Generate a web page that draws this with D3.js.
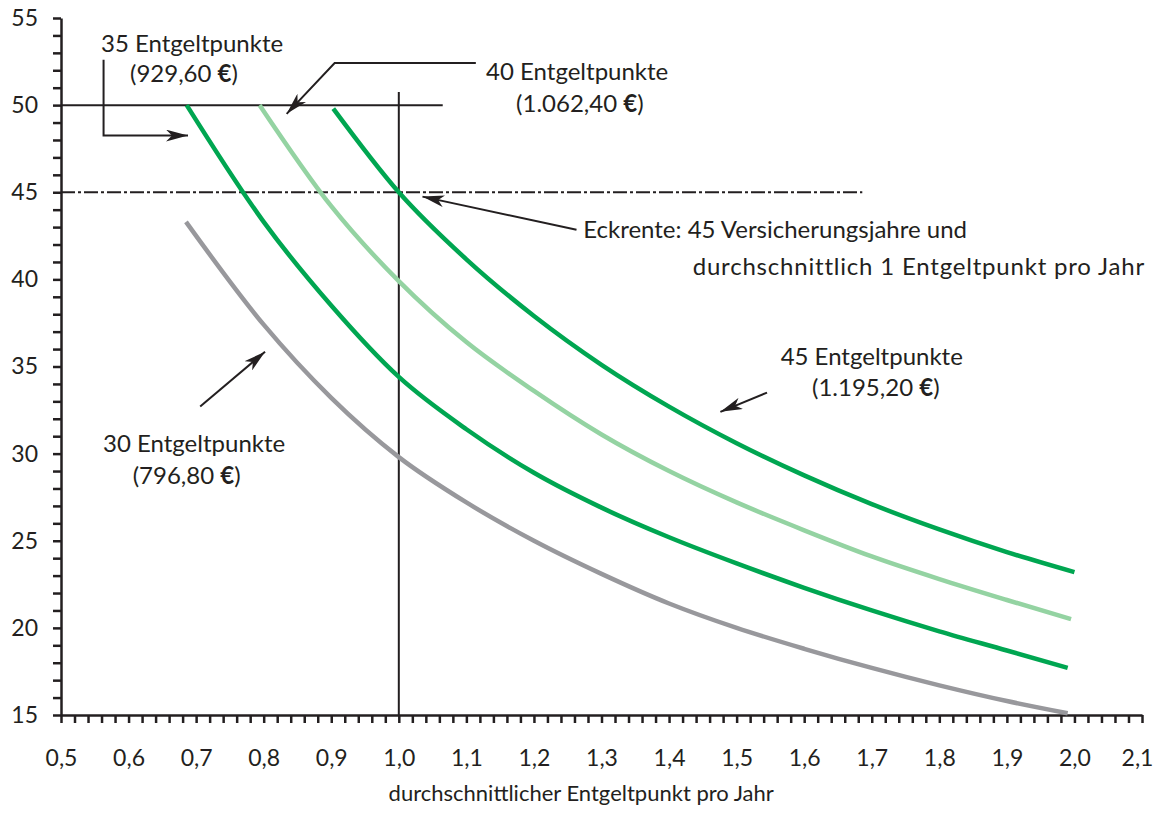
<!DOCTYPE html>
<html>
<head>
<meta charset="utf-8">
<script src="https://cdn.jsdelivr.net/npm/d3@7"></script>
<style>
    body { margin: 0; background: #fff; }
    svg text { font-family: Lato, "Open Sans", sans-serif; fill: #231f20; }
    .axis path, .axis line { stroke: #231f20; stroke-width: 2.5; }
    .axis text { font-size: 23px; }
    .note { font-size: 24px; }
    .axis-title { font-size: 22px; }
</style>
</head>
<body>
<div class="rente-chart"></div>
<script>
// curves: x = average Entgeltpunkt per year, y = years
var x30 = [0.685, 0.8, 0.9, 1.0, 1.1, 1.2, 1.3, 1.4, 1.5, 1.6, 1.7, 1.8, 1.9, 1.99];
var y30 = [43.3, 37.4, 33.2, 29.8, 27.2, 25.0, 23.1, 21.4, 20.0, 18.8, 17.7, 16.7, 15.8, 15.1];

var x35 = [0.686, 0.8, 0.9, 1.0, 1.1, 1.2, 1.3, 1.4, 1.5, 1.6, 1.7, 1.8, 1.9, 1.99];
var y35 = [50.0, 43.3, 38.5, 34.4, 31.4, 28.9, 26.9, 25.2, 23.7, 22.3, 21.0, 19.8, 18.7, 17.7];

var x40 = [0.794, 0.9, 1.0, 1.1, 1.2, 1.3, 1.4, 1.5, 1.6, 1.7, 1.8, 1.9, 1.995];
var y40 = [50.0, 44.2, 39.9, 36.4, 33.6, 31.1, 29.0, 27.2, 25.6, 24.1, 22.8, 21.6, 20.5];

var x45 = [0.903, 1.0, 1.1, 1.2, 1.3, 1.4, 1.5, 1.6, 1.7, 1.8, 1.9, 2.0];
var y45 = [49.8, 45.0, 41.15, 37.9, 35.1, 32.7, 30.6, 28.75, 27.1, 25.65, 24.35, 23.2];

var seriesNames = ["30", "35", "40", "45"];
var seriesColors = ["#98989c", "#00a651", "#94d3a2", "#00a651"];

var xTickValues = d3.range(0, 81).map(function(i) { return 0.5 + i * 0.02; });
var yTickValues = d3.range(15, 56);

(function() {
    var width = 1158, height = 827;

    var x = d3.scaleLinear().domain([0.5, 2.1]).range([61, 1142]);
    var y = d3.scaleLinear().domain([15, 55]).range([715, 18]);

    var svg = d3.select(".rente-chart")
        .append("svg")
            .attr("width", width)
            .attr("height", height);

    var defs = svg.append("defs");
    defs.append("marker")
        .attr("id", "arrow")
        .attr("viewBox", "0 0 22 12")
        .attr("refX", 22)
        .attr("refY", 6)
        .attr("markerWidth", 22)
        .attr("markerHeight", 12)
        .attr("markerUnits", "userSpaceOnUse")
        .attr("orient", "auto")
        .append("path")
            .attr("d", "M0,0 L22,6 L0,12 L6,6 Z")
            .style("fill", "#231f20");

    function fmt(d) {
        return d3.format(".1f")(d).replace(".", ",");
    }

    // axes
    svg.append("g")
        .classed("axis", true)
        .attr("transform", "translate(0," + y(15) + ")")
        .call(d3.axisBottom(x)
            .tickValues(xTickValues)
            .tickSize(8)
            .tickSizeOuter(0)
            .tickFormat(function(d) {
                var r = Math.round(d * 100);
                return r % 10 === 0 ? fmt(d) : "";
            }))
        .call(function(g) {
            g.selectAll("text").attr("y", 51).attr("dy", 0);
            g.selectAll(".tick:last-of-type text").attr("dx", -5);
        });

    svg.append("g")
        .classed("axis", true)
        .attr("transform", "translate(" + x(0.5) + ",0)")
        .call(d3.axisLeft(y)
            .tickValues(yTickValues)
            .tickSize(8)
            .tickSizeOuter(0)
            .tickFormat(function(d) { return d % 5 === 0 ? d : ""; }))
        .call(function(g) {
            g.selectAll("text").attr("x", -23);
        });

    svg.append("text")
        .classed("axis-title", true)
        .attr("x", x(1.27))
        .attr("y", 801)
        .attr("text-anchor", "middle")
        .text("durchschnittlicher Entgeltpunkt pro Jahr");

    // reference lines
    var refs = svg.append("g").style("stroke", "#231f20").style("fill", "none");
    refs.append("line")
        .attr("x1", x(0.5)).attr("x2", x(1.065))
        .attr("y1", y(50)).attr("y2", y(50))
        .style("stroke-width", 2);
    refs.append("line")
        .attr("x1", x(1.0)).attr("x2", x(1.0))
        .attr("y1", y(50.75)).attr("y2", y(15))
        .style("stroke-width", 2);
    refs.append("line")
        .attr("x1", x(0.5)).attr("x2", x(1.686))
        .attr("y1", y(45)).attr("y2", y(45))
        .style("stroke-width", 2)
        .style("stroke-dasharray", "14,3,3,3");

    // curves
    var xs = [x30, x35, x40, x45];
    var ys = [y30, y35, y40, y45];
    var line = d3.line()
        .x(function(d) { return x(d[0]); })
        .y(function(d) { return y(d[1]); })
        .curve(d3.curveMonotoneX);

    svg.append("g")
        .classed("curves", true)
        .selectAll("path")
        .data(seriesNames)
        .enter()
        .append("path")
            .attr("d", function(d, i) { return line(d3.zip(xs[i], ys[i])); })
            .style("fill", "none")
            .style("stroke", function(d, i) { return seriesColors[i]; })
            .style("stroke-width", 4.5);

    // annotations
    var notes = svg.append("g").classed("annotations", true);

    function label(cx, cy, text, anchor, spacing) {
        var t = notes.append("text")
            .classed("note", true)
            .attr("x", x(cx))
            .attr("y", y(cy))
            .attr("text-anchor", anchor || "middle")
            .style("letter-spacing", spacing || null);
        var parts = text.split("€");
        t.append("tspan").text(parts[0]);
        if (parts.length > 1) {
            t.append("tspan").style("font-weight", "bold").text("€");
            t.append("tspan").text(parts[1]);
        }
    }

    function arrow(points) {
        notes.append("path")
            .attr("d", d3.line()(points.map(function(p) { return [x(p[0]), y(p[1])]; })))
            .style("fill", "none")
            .style("stroke", "#231f20")
            .style("stroke-width", 2)
            .attr("marker-end", "url(#arrow)");
    }

    label(0.694, 53.05, "35 Entgeltpunkte");
    label(0.682, 51.3, "(929,60 €)");
    arrow([[0.563, 52.6], [0.563, 48.25], [0.688, 48.25]]);

    label(1.264, 51.45, "40 Entgeltpunkte");
    label(1.268, 49.6, "(1.062,40 €)");
    arrow([[1.114, 52.42], [0.905, 52.42], [0.834, 49.5]]);

    label(1.273, 42.4, "Eckrente: 45 Versicherungsjahre und", "start");
    label(1.435, 40.27, "durchschnittlich 1 Entgeltpunkt pro Jahr", "start", "0.8px");
    arrow([[1.263, 42.85], [1.035, 44.75]]);

    label(1.700, 35.1, "45 Entgeltpunkte");
    label(1.706, 33.28, "(1.195,20 €)");
    arrow([[1.545, 33.5], [1.476, 32.4]]);

    label(0.697, 30.07, "30 Entgeltpunkte");
    label(0.686, 28.24, "(796,80 €)");
    arrow([[0.706, 32.7], [0.802, 35.85]]);
})();
</script>
</body>
</html>
